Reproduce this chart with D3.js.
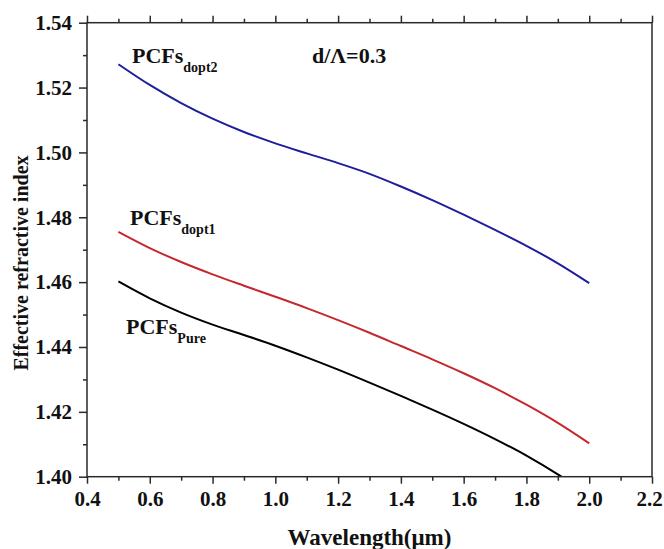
<!DOCTYPE html>
<html>
<head>
<meta charset="utf-8">
<script src="https://cdn.jsdelivr.net/npm/d3@7/dist/d3.min.js"></script>
<style>
  html, body { margin: 0; padding: 0; background: #fff; }
  svg { display: block; }
  text { font-family: "Liberation Serif", "Times New Roman", serif; font-weight: bold; fill: #111; }
</style>
</head>
<body>
<svg id="chart" width="664" height="549"></svg>
<script>
// ---------------- DATA ----------------
const wavelength = [0.5, 0.6, 0.7, 0.8, 0.9, 1.0, 1.1, 1.2, 1.3, 1.4, 1.5, 1.6, 1.7, 1.8, 1.9, 2.0];
const nDopt2 = [1.5272, 1.5208, 1.5152, 1.5104, 1.5063, 1.5028, 1.4997, 1.4967, 1.4934, 1.4895, 1.4853, 1.4808, 1.4761, 1.4712, 1.4658, 1.4597];
const nDopt1 = [1.4755, 1.4705, 1.4662, 1.4624, 1.4589, 1.4555, 1.4520, 1.4483, 1.4444, 1.4403, 1.4362, 1.4319, 1.4273, 1.4222, 1.4166, 1.4103];
const nPure  = [1.4602, 1.4550, 1.4506, 1.4469, 1.4437, 1.4404, 1.4368, 1.4330, 1.4290, 1.4249, 1.4207, 1.4163, 1.4116, 1.4065, 1.4007, 1.3941];
const xMajorTicks = [0.4, 0.6, 0.8, 1.0, 1.2, 1.4, 1.6, 1.8, 2.0, 2.2];
const xMinorTicks = [0.5, 0.7, 0.9, 1.1, 1.3, 1.5, 1.7, 1.9, 2.1];
const yMajorTicks = [1.40, 1.42, 1.44, 1.46, 1.48, 1.50, 1.52, 1.54];
const yMinorTicks = [1.41, 1.43, 1.45, 1.47, 1.49, 1.51, 1.53];
const seriesNames = ["dopt2", "dopt1", "Pure"];
const xTitle = "Wavelength(\u03bcm)";
const yTitle = "Effective refractive index";
const annotation = "d/\u039b=0.3";

// ---------------- LAYOUT ----------------
const pLeft = 87, pRight = 652, pTop = 22.7, pBottom = 476.7;
const svg = d3.select("#chart");
const x = d3.scaleLinear().domain([0.4, 2.2]).range([pLeft, pRight]);
const y = d3.scaleLinear().domain([1.40, 1.54]).range([pBottom, pTop]);

const series = [
  { name: seriesNames[0], values: nDopt2, color: "#1e1e9c" },
  { name: seriesNames[1], values: nDopt1, color: "#c6282e" },
  { name: seriesNames[2], values: nPure,  color: "#000000" }
];

svg.append("defs").append("clipPath").attr("id", "plotclip")
  .append("rect").attr("x", pLeft).attr("y", pTop)
  .attr("width", pRight - pLeft).attr("height", pBottom - pTop);

// lines
const line = d3.line().x(d => x(d[0])).y(d => y(d[1])).curve(d3.curveMonotoneX);
const g = svg.append("g").attr("clip-path", "url(#plotclip)");
series.forEach(s => {
  g.append("path")
    .datum(wavelength.map((w, i) => [w, s.values[i]]))
    .attr("fill", "none")
    .attr("stroke", s.color)
    .attr("stroke-width", 2)
    .attr("d", line);
});

// frame
const axisColor = "#2a2a2a";
svg.append("rect").attr("x", pLeft).attr("y", pTop)
  .attr("width", pRight - pLeft).attr("height", pBottom - pTop)
  .attr("fill", "none").attr("stroke", axisColor).attr("stroke-width", 1.5);

function styleAxis(sel) {
  sel.select(".domain").remove();
  sel.selectAll("line").attr("stroke", axisColor).attr("stroke-width", 1.5);
  sel.selectAll("text").attr("font-size", 21).attr("fill", "#111")
     .attr("font-family", '"Liberation Serif", "Times New Roman", serif').attr("font-weight", "bold");
}

// bottom axis
const bottomAxis = svg.append("g").attr("transform", `translate(0,${pBottom})`)
  .call(d3.axisBottom(x).tickValues(xMajorTicks).tickSize(7).tickPadding(7).tickFormat(d3.format(".1f")))
  .call(styleAxis);
// keep the last label inside the page
bottomAxis.selectAll(".tick text").filter(d => d === 2.2).attr("dx", -3);
svg.append("g").attr("transform", `translate(0,${pBottom})`)
  .call(d3.axisBottom(x).tickValues(xMinorTicks).tickSize(4).tickFormat(""))
  .call(styleAxis);
// top axis (ticks only)
svg.append("g").attr("transform", `translate(0,${pTop})`)
  .call(d3.axisTop(x).tickValues(xMajorTicks).tickSize(7).tickFormat(""))
  .call(styleAxis);
svg.append("g").attr("transform", `translate(0,${pTop})`)
  .call(d3.axisTop(x).tickValues(xMinorTicks).tickSize(4).tickFormat(""))
  .call(styleAxis);
// left axis
svg.append("g").attr("transform", `translate(${pLeft},0)`)
  .call(d3.axisLeft(y).tickValues(yMajorTicks).tickSize(8).tickPadding(7).tickFormat(d3.format(".2f")))
  .call(styleAxis);
svg.append("g").attr("transform", `translate(${pLeft},0)`)
  .call(d3.axisLeft(y).tickValues(yMinorTicks).tickSize(4).tickFormat(""))
  .call(styleAxis);

// axis titles
svg.append("text").attr("x", (pLeft + pRight) / 2).attr("y", 545)
  .attr("text-anchor", "middle").attr("font-size", 23).text(xTitle);
svg.append("text").attr("transform", "translate(28,263) rotate(-90)")
  .attr("text-anchor", "middle").attr("font-size", 20).text(yTitle);

// series labels
const labelPos = [
  { name: seriesNames[0], x: 132, y: 63 },
  { name: seriesNames[1], x: 130, y: 225 },
  { name: seriesNames[2], x: 126, y: 334 }
];
labelPos.forEach(p => {
  const t = svg.append("text").attr("x", p.x).attr("y", p.y).attr("font-size", 22);
  t.append("tspan").text("PCFs");
  t.append("tspan").attr("dy", 9).attr("font-size", 14).text(p.name);
});

svg.append("text").attr("x", 312).attr("y", 63).attr("font-size", 22).text(annotation);
</script>
</body>
</html>
